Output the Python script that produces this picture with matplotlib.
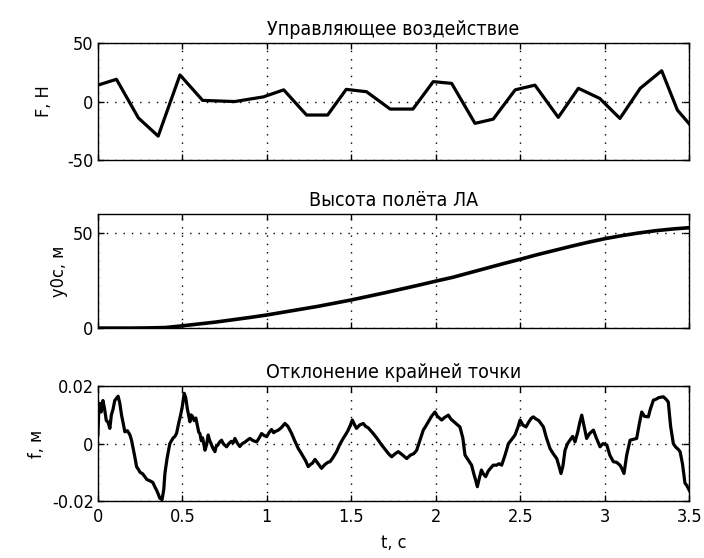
import matplotlib
matplotlib.use("Agg")
import matplotlib.pyplot as plt
import numpy as np

plt.rcParams['font.family'] = ['DejaVu Sans']
plt.rcParams['font.stretch'] = 'condensed'
plt.rcParams['font.size'] = 13
plt.rcParams['axes.unicode_minus'] = False

# control force F(t)
t_F = [0, 0.11, 0.24, 0.357, 0.486, 0.62, 0.81, 0.98, 1.10, 1.235, 1.36, 1.47,
       1.59, 1.73, 1.865, 1.985, 2.094, 2.232, 2.34, 2.47, 2.587, 2.725, 2.844,
       2.97, 3.09, 3.21, 3.337, 3.43, 3.5]
F = [14, 19, -14, -29.5, 22.7, 1, 0, 4, 10, -11.5, -11.5, 10.4,
     8.4, -6.4, -6.4, 17, 15.5, -18.6, -15, 10, 14, -13.5, 11.3,
     2.7, -14.4, 11.3, 26.3, -7.3, -19]

# altitude y0c(t)
t_y = [0, 0.1, 0.2, 0.3, 0.4, 0.5, 0.6, 0.7, 0.8, 0.9, 1.0, 1.1, 1.2, 1.3, 1.4,
       1.5, 1.6, 1.7, 1.8, 1.9, 2.0, 2.1, 2.2, 2.3, 2.4, 2.5, 2.6, 2.7, 2.8,
       2.9, 3.0, 3.1, 3.2, 3.3, 3.4, 3.5]
y0c = [0, 0, 0, 0.1, 0.3, 1.2, 2.2, 3.2, 4.4, 5.6, 6.9, 8.4, 9.9, 11.4, 13.1,
       14.8, 16.7, 18.6, 20.6, 22.6, 24.7, 26.7, 29.1, 31.5, 33.9, 36.2, 38.6,
       40.8, 43.0, 45.1, 47.0, 48.6, 50.0, 51.2, 52.1, 52.8]

# tip deflection f(t), (t, f) pairs
deflection = [
    (0, 0.003), (0.006, 0.012), (0.012, 0.014), (0.02, 0.011), (0.03, 0.015),
    (0.04, 0.012), (0.05, 0.008), (0.06, 0.0075), (0.071, 0.0053), (0.08, 0.010),
    (0.09, 0.012), (0.1, 0.015), (0.12, 0.0165), (0.13, 0.014), (0.14, 0.010),
    (0.15, 0.007), (0.16, 0.0041), (0.175, 0.0045), (0.19, 0.003), (0.2, 0.001),
    (0.21, -0.002), (0.22, -0.005), (0.229, -0.008), (0.24, -0.009), (0.25, -0.010),
    (0.265, -0.0105), (0.278, -0.0115), (0.29, -0.0125), (0.31, -0.013),
    (0.325, -0.0135), (0.337, -0.015), (0.35, -0.0165), (0.367, -0.019),
    (0.38, -0.0195), (0.39, -0.016), (0.397, -0.0103), (0.41, -0.005), (0.426, 0),
    (0.436, 0.001), (0.446, 0.002), (0.456, 0.0025), (0.466, 0.0036), (0.478, 0.007),
    (0.49, 0.010), (0.5, 0.013), (0.511, 0.0175), (0.52, 0.016), (0.53, 0.012),
    (0.545, 0.0076), (0.552, 0.010), (0.56, 0.0095), (0.57, 0.008), (0.58, 0.0089),
    (0.59, 0.006), (0.597, 0.004), (0.604, 0.0035), (0.612, 0.001), (0.62, 0.002),
    (0.634, -0.0023), (0.643, -0.0005), (0.653, 0.003), (0.662, 0.001), (0.67, 0.0),
    (0.68, -0.0015), (0.693, -0.0028), (0.70, -0.001), (0.71, -0.0005),
    (0.72, 0.0005), (0.732, 0.0012), (0.74, 0.0002), (0.75, -0.0005),
    (0.762, -0.0011), (0.775, 0.0), (0.79, 0.0008), (0.80, 0.0002), (0.811, 0.0018),
    (0.825, 0.0002), (0.84, -0.001), (0.855, 0.0), (0.87, 0.0005), (0.885, 0.0012),
    (0.9, 0.0018), (0.92, 0.0010), (0.94, 0.0006), (0.955, 0.002), (0.969, 0.0035),
    (0.985, 0.0028), (0.999, 0.0024), (1.015, 0.004), (1.028, 0.0049),
    (1.04, 0.0038), (1.05, 0.0042), (1.068, 0.0047), (1.085, 0.0055), (1.107, 0.007),
    (1.125, 0.006), (1.147, 0.0035), (1.165, 0.001), (1.186, -0.0017), (1.2, -0.003),
    (1.215, -0.0045), (1.23, -0.006), (1.245, -0.008), (1.26, -0.0072),
    (1.27, -0.0068), (1.285, -0.0055), (1.295, -0.0063), (1.31, -0.0075),
    (1.324, -0.0086), (1.34, -0.0075), (1.35, -0.0070), (1.362, -0.0065),
    (1.374, -0.0063), (1.39, -0.005), (1.413, -0.0028), (1.43, -0.0005),
    (1.452, 0.0018), (1.465, 0.003), (1.48, 0.0045), (1.495, 0.0065), (1.506, 0.0082),
    (1.52, 0.0065), (1.531, 0.0053), (1.55, 0.0065), (1.571, 0.007), (1.585, 0.006),
    (1.6, 0.0055), (1.615, 0.0045), (1.63, 0.0035), (1.65, 0.002), (1.68, -0.0005),
    (1.70, -0.002), (1.72, -0.0035), (1.739, -0.0046), (1.76, -0.0035),
    (1.778, -0.0028), (1.80, -0.0038), (1.828, -0.0052), (1.85, -0.004),
    (1.87, -0.0035), (1.887, -0.0023), (1.90, 0.0), (1.926, 0.0047), (1.94, 0.006),
    (1.96, 0.008), (1.975, 0.0095), (1.995, 0.011), (2.01, 0.0095), (2.035, 0.0082),
    (2.05, 0.009), (2.074, 0.0099), (2.09, 0.0085), (2.11, 0.0075), (2.125, 0.0068),
    (2.143, 0.0058), (2.16, 0.002), (2.173, -0.004), (2.19, -0.0055),
    (2.212, -0.0075), (2.225, -0.0105), (2.235, -0.0125), (2.246, -0.015),
    (2.26, -0.0115), (2.27, -0.0092), (2.281, -0.0105), (2.295, -0.0115),
    (2.311, -0.0095), (2.325, -0.0085), (2.34, -0.0075), (2.36, -0.0075),
    (2.375, -0.007), (2.39, -0.0075), (2.41, -0.004), (2.43, 0), (2.45, 0.0015),
    (2.469, 0.003), (2.485, 0.0055), (2.499, 0.0082), (2.515, 0.0065),
    (2.534, 0.0058), (2.55, 0.0075), (2.565, 0.0088), (2.577, 0.0093),
    (2.595, 0.0085), (2.61, 0.008), (2.637, 0.0058), (2.655, 0.002),
    (2.676, -0.0017), (2.695, -0.0035), (2.716, -0.0052), (2.73, -0.008),
    (2.741, -0.0104), (2.752, -0.008), (2.765, -0.0023), (2.78, 0.0),
    (2.794, 0.0012), (2.81, 0.0025), (2.824, 0.0006), (2.84, 0.004), (2.853, 0.0075),
    (2.864, 0.0099), (2.878, 0.006), (2.893, 0.0018), (2.91, 0.0035), (2.933, 0.0047),
    (2.95, 0.002), (2.972, -0.0011), (2.99, 0.0), (3.012, -0.0005), (3.03, -0.004),
    (3.051, -0.0063), (3.07, -0.0065), (3.09, -0.0075), (3.10, -0.0085),
    (3.114, -0.0104), (3.13, -0.004), (3.15, 0.0012), (3.17, 0.0015), (3.189, 0.0018),
    (3.205, 0.007), (3.219, 0.011), (3.235, 0.0095), (3.258, 0.0093), (3.27, 0.012),
    (3.288, 0.0151), (3.305, 0.0155), (3.32, 0.016), (3.347, 0.0163),
    (3.362, 0.0155), (3.376, 0.0145), (3.39, 0.006), (3.406, 0), (3.42, -0.0012),
    (3.435, -0.002), (3.446, -0.0028), (3.46, -0.007), (3.475, -0.0138),
    (3.485, -0.0145), (3.5, -0.0162),
]
t_f = [p[0] for p in deflection]
f = [p[1] for p in deflection]

xticks = [0, 0.5, 1, 1.5, 2, 2.5, 3, 3.5]
xticklabels = ['0', '0.5', '1', '1.5', '2', '2.5', '3', '3.5']

fig = plt.figure(figsize=(7.04, 5.58), dpi=100)
L, W = 0.139, 0.840
ax1 = fig.add_axes([L, 0.713, W, 0.210])
ax2 = fig.add_axes([L, 0.412, W, 0.2045])
ax3 = fig.add_axes([L, 0.102, W, 0.206])


def style(ax):
    ax.set_xlim(0, 3.5)
    ax.set_xticks(xticks)
    ax.grid(True, color='k', linestyle=(0, (1, 5)), linewidth=1.0)
    ax.tick_params(direction='in', top=True, right=True, length=4, width=1, pad=3)
    ax.tick_params(axis='x', pad=5)
    for s in ax.spines.values():
        s.set_linewidth(1.0)


ax1.plot(t_F, F, color='k', lw=2.3)
style(ax1)
ax1.set_ylim(-50, 50)
ax1.set_yticks([-50, 0, 50])
ax1.set_xticklabels([])
ax1.set_ylabel('F, Н', labelpad=10)
ax1.set_title('Управляющее воздействие', fontsize=14, pad=6)

ax2.plot(t_y, y0c, color='k', lw=2.6)
style(ax2)
ax2.set_ylim(0, 60)
ax2.set_yticks([0, 50])
ax2.set_xticklabels([])
ax2.set_ylabel('y0c, м')
ax2.set_title('Высота полёта ЛА', fontsize=14, pad=6)

ax3.plot(t_f, f, color='k', lw=2.3)
style(ax3)
ax3.set_ylim(-0.02, 0.02)
ax3.set_yticks([-0.02, 0, 0.02])
ax3.set_yticklabels(['-0.02', '0', '0.02'])
ax3.set_xticklabels(xticklabels)
ax3.set_ylabel('f, м')
ax3.set_xlabel('t, с', labelpad=6)
ax3.set_title('Отклонение крайней точки', fontsize=14, pad=6)

fig.align_ylabels([ax1, ax2, ax3])
fig.savefig('out.png', dpi=100)
